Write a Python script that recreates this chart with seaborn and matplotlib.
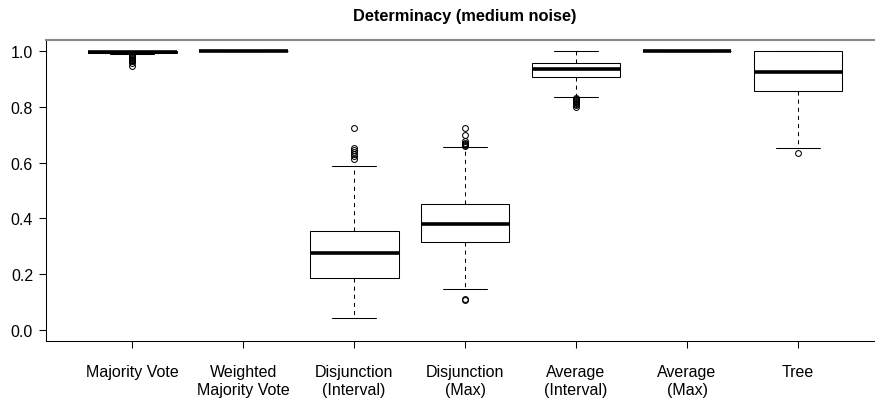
import numpy as np
import pandas as pd
import matplotlib
matplotlib.use("Agg")
import matplotlib.pyplot as plt
import seaborn as sns

# ---- data (box-plot summaries) ----
methods = ["Majority Vote", "Weighted\nMajority Vote", "Disjunction\n(Interval)",
           "Disjunction\n(Max)", "Average\n(Interval)", "Average\n(Max)", "Tree"]
whisker_low = [0.990, 1.000, 0.044, 0.145, 0.837, 1.000, 0.651]
q1          = [0.995, 1.000, 0.187, 0.317, 0.908, 1.000, 0.856]
median      = [0.997, 1.000, 0.274, 0.379, 0.935, 1.000, 0.926]
q3          = [1.000, 1.000, 0.356, 0.453, 0.956, 1.000, 1.000]
whisker_high = [1.000, 1.000, 0.587, 0.656, 1.000, 1.000, 1.000]
outliers = [
    [0.985, 0.982, 0.979, 0.976, 0.973, 0.970, 0.967, 0.963, 0.958, 0.948],
    [],
    [0.725, 0.654, 0.646, 0.638, 0.630, 0.622, 0.614],
    [0.725, 0.698, 0.678, 0.672, 0.667, 0.663, 0.660, 0.111, 0.108],
    [0.833, 0.829, 0.825, 0.821, 0.817, 0.813, 0.809, 0.805, 0.801],
    [],
    [0.636],
]

# Build a sample per method whose box-plot statistics equal the values above
K = 40
rows = []
for i, m in enumerate(methods):
    vals = ([whisker_low[i]] + [q1[i]] * K + [median[i]] * K + [q3[i]] * K
            + [whisker_high[i]] + outliers[i])
    rows += [(m, v) for v in vals]
df = pd.DataFrame(rows, columns=["method", "value"])

sns.set_theme(style="ticks")
plt.rcParams["font.family"] = ["Liberation Sans", "DejaVu Sans"]

fig = plt.figure(figsize=(8.75, 4.06), dpi=100)
ax = fig.add_axes([45.6 / 875, (406 - 342) / 406, 839 / 875, 301 / 406])

lw = 0.75
sns.boxplot(
    data=df, x="method", y="value", order=methods, ax=ax,
    width=0.8, color="white", saturation=1, linecolor="black", linewidth=lw,
    whis=1.5,
    medianprops={"color": "black", "linewidth": 2.6, "solid_capstyle": "butt"},
    whiskerprops={"color": "black", "linewidth": lw, "linestyle": (0, (3.9, 3.9))},
    capprops={"color": "black", "linewidth": lw},
    flierprops={"marker": "o", "markerfacecolor": "none", "markeredgecolor": "black",
                "markeredgewidth": lw, "markersize": 4.2},
    boxprops={"edgecolor": "black", "linewidth": lw, "facecolor": "white"},
)

ax.set_xlim(0.22 - 1, 7.78 - 1)
ax.set_ylim(-0.04, 1.04)
ax.set_yticks([0.0, 0.2, 0.4, 0.6, 0.8, 1.0])
ax.set_yticklabels(["0.0", "0.2", "0.4", "0.6", "0.8", "1.0"])
ax.set_xlabel("")
ax.set_ylabel("")
ax.set_title("Determinacy (medium noise)", fontsize=11.8, fontweight="bold",
             pad=14.4, color="black")

for lab in ax.get_xticklabels():
    lab.set_linespacing(1.2)

ax.tick_params(axis="both", length=4.7, width=lw, color="black", labelsize=11.5,
               labelcolor="black")
ax.tick_params(axis="x", pad=12)
ax.tick_params(axis="y", pad=4.3)

for s in ["left", "bottom"]:
    ax.spines[s].set_color("black")
    ax.spines[s].set_linewidth(lw)
ax.spines["top"].set_visible(True)
ax.spines["top"].set_color("#888888")
ax.spines["top"].set_linewidth(1.5)
ax.spines["right"].set_visible(False)
ax.set_facecolor("white")
fig.patch.set_facecolor("white")

fig.savefig("out.png", dpi=100)
